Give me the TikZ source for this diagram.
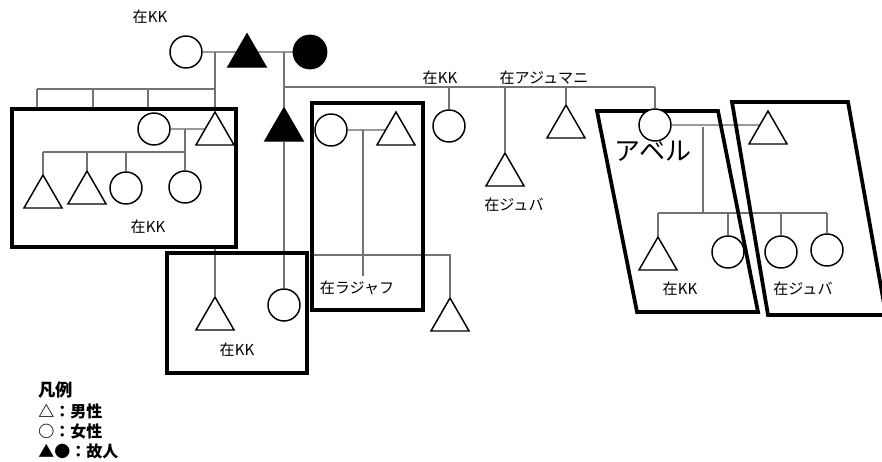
\documentclass[tikz,border=0pt]{standalone}
\usepackage{fontspec}
\setmainfont{Noto Sans CJK JP}
\usetikzlibrary{shapes.geometric,backgrounds}

\begin{document}
\begin{tikzpicture}[x=0.75pt,y=-0.75pt,
  female/.style={circle,draw=black,fill=white,line width=1.1pt,minimum size=24pt,inner sep=0pt},
  male/.style={regular polygon,regular polygon sides=3,draw=black,fill=white,line width=1.1pt,minimum size=33pt,inner sep=0pt},
  dead/.style={fill=black},
  conn/.style={draw=black!55,line width=0.9pt},
  couple/.style={draw=black!40,line width=2.2pt},
  group/.style={draw=black,line width=2.8pt,line join=miter},
  lbl/.style={font=\fontsize{11.3}{13}\selectfont,inner sep=0pt},
  big/.style={font=\fontsize{19.5}{22}\selectfont,inner sep=0pt},
  legend/.style={font=\fontsize{12}{14}\selectfont\bfseries,inner sep=0pt,anchor=west},
]
\useasboundingbox (0,0) rectangle (882,461);
\clip (0,0) rectangle (882,461);

% ---------- first generation ----------
\node[female] (gc) at (186,52) {};
\node[male,dead] (gt) at (247,56) {};
\node[female,dead,minimum size=25pt] (gb) at (310,52) {};
\node[lbl] (lgc) at (150,17) {在KK};

% ---------- family group boxes ----------
\coordinate (b1nw) at (12,109);  \coordinate (b1se) at (236,247);
\coordinate (b2nw) at (167,253); \coordinate (b2se) at (307,373);
\coordinate (b3nw) at (312,103); \coordinate (b3se) at (423,310);
\draw[group] (b1nw) rectangle (b1se);
\draw[group] (b2nw) rectangle (b2se);
\draw[group] (b3nw) rectangle (b3se);
\draw[group] (597,111) -- (718,111) -- (758,312) -- (637,312) -- cycle;
\draw[group] (732,102) -- (848,102) -- (886,315) -- (768,315) -- cycle;

% ---------- left group ----------
\node[female] (c1) at (154,129) {};
\node[male] (t1) at (215,134) {};
\node[male] (ta) at (43,197) {};
\node[male] (tb) at (87,193) {};
\node[female] (cc) at (126,188) {};
\node[female] (cd) at (185,187) {};
\node[lbl] (l1) at (148,227) {在KK};

% ---------- second line ----------
\node[male,dead] (bt) at (284,130) {};
\node[male] (t3) at (215,319) {};
\node[female] (c3) at (284,305) {};
\node[lbl] (l2) at (237,350) {在KK};

\node[female] (c4) at (331,130) {};
\node[male] (t4) at (396,134) {};
\node[male] (t5) at (450,320) {};
\node[lbl] (l3) at (357,288) {在ラジャフ};

\node[female] (c5) at (449,126) {};
\node[lbl] (l4) at (440,78) {在KK};
\node[lbl] (l5) at (544,78) {在アジュマニ};
\node[male] (t6) at (505,175) {};
\node[lbl] (l6) at (514,205) {在ジュバ};
\node[male] (t7) at (566,127) {};

% ---------- right groups ----------
\node[female] (c6) at (655,125) {};
\node[male] (t8) at (768,133) {};
\node[male] (t9) at (658,259) {};
\node[female] (c7) at (728,252) {};
\node[female] (c8) at (781,252) {};
\node[female] (c9) at (827,250) {};
\node[big] (abel) at (653,151) {アベル};
\node[lbl] (l7) at (680,289) {在KK};
\node[lbl] (l8) at (803,289) {在ジュバ};

% ---------- legend ----------
\node[legend,font=\fontsize{13}{15}\selectfont\bfseries] (lg0) at (38,390) {凡例};
\node[legend] (lg1) at (38,411) {△：男性};
\node[legend] (lg2) at (38,431) {○：女性};
\node[legend] (lg3) at (38,451) {▲●：故人};

% ---------- connectors ----------
\begin{scope}[on background layer]
  % first generation
  \draw[couple] (gc) -- (gb);
  \coordinate (g1) at (215,52);
  \coordinate (g1s) at (215,89);
  \coordinate (g1l) at (37,89);
  \coordinate (g1a) at (93,89);
  \coordinate (g1b) at (148,89);
  \draw[conn] (g1) -- (t1.corner 1);
  \draw[conn] (g1l) -- (g1s);
  \draw[conn] (g1l) -- (g1l |- b1nw);
  \draw[conn] (g1a) -- (g1a |- b1nw);
  \draw[conn] (g1b) -- (g1b |- b1nw);
  \draw[conn] (t1.corner 1 |- b1se) -- (t3.corner 1);

  \coordinate (g2) at (284,52);
  \coordinate (g2s) at (284,87);
  \coordinate (g2r) at (655,87);
  \draw[conn] (g2) -- (bt.corner 1);
  \draw[conn] (bt) -- (c3);
  \draw[conn] (g2s) -- (g2r);
  \draw[conn] (g2r) -- (c6.north);
  \draw[conn] (c5.north |- g2s) -- (c5.north);
  \draw[conn] (t6.corner 1 |- g2s) -- (t6.corner 1);
  \draw[conn] (t7.corner 1 |- g2s) -- (t7.corner 1);

  % left group family
  \draw[couple] (c1) -- (c1 -| t1);
  \coordinate (f1) at (185,129);
  \coordinate (f1s) at (185,152);
  \coordinate (f1l) at (43,152);
  \draw[conn] (f1) -- (cd.north);
  \draw[conn] (f1l) -- (f1s);
  \draw[conn] (f1l) -- (ta.corner 1);
  \draw[conn] (tb.corner 1 |- f1s) -- (tb.corner 1);
  \draw[conn] (cc.north |- f1s) -- (cc.north);

  % ラジャフ family
  \draw[couple] (c4) -- (c4 -| t4);
  \coordinate (f3) at (363,130);
  \coordinate (f3s) at (363,255);
  \coordinate (f3e) at (363,276);
  \draw[conn] (f3) -- (f3e);
  \draw[conn] (b3nw |- f3s) -- (t5.corner 1 |- f3s) -- (t5.corner 1);

  % アベル family
  \draw[couple] (c6) -- (c6 -| t8);
  \coordinate (f4) at (703,127);
  \coordinate (f4s) at (703,213);
  \draw[conn] (f4) -- (f4s);
  \draw[conn] (t9.corner 1 |- f4s) -- (c9.north |- f4s);
  \draw[conn] (t9.corner 1 |- f4s) -- (t9.corner 1);
  \draw[conn] (c7.north |- f4s) -- (c7.north);
  \draw[conn] (c8.north |- f4s) -- (c8.north);
  \draw[conn] (c9.north |- f4s) -- (c9.north);
\end{scope}
\end{tikzpicture}
\end{document}
